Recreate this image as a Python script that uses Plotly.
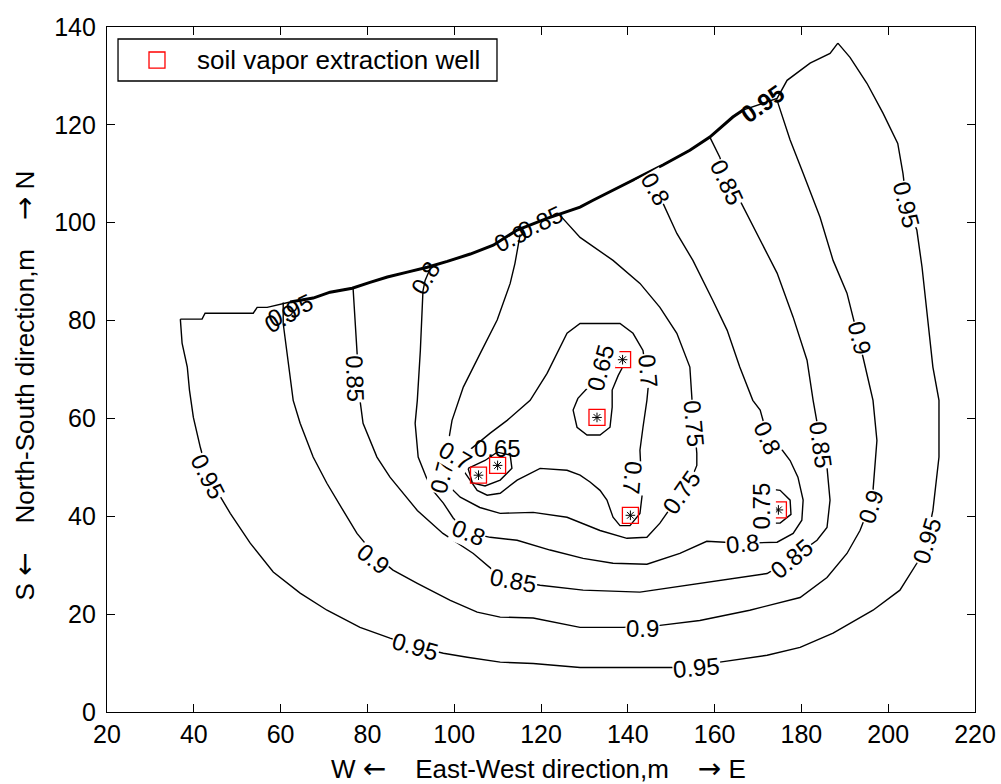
import plotly.graph_objects as go

# ---------------- data ----------------
x_ticks = [20, 40, 60, 80, 100, 120, 140, 160, 180, 200, 220]
y_ticks = [0, 20, 40, 60, 80, 100, 120, 140]

# upper edge of the domain, where all iso-lines bunch together
boundary_x = [36.9, 41.9, 42.6, 53.7, 54.6, 56.9, 62.2, 67.5, 71.4, 76.5, 80.6, 84.6, 89.2, 93.8,
              98.4, 103.7, 109.0, 114.5, 121.4, 129.0, 132.0, 139.8, 148.1, 154.3, 158.9, 164.2,
              166.5, 174.4, 176.7, 182.0, 186.6, 188.4]
boundary_y = [80.3, 80.3, 81.5, 81.5, 82.7, 82.7, 83.8, 84.6, 85.8, 86.6, 87.8, 88.9, 89.9, 90.9,
              92.1, 93.6, 95.4, 98.5, 100.9, 103.2, 104.6, 108.1, 111.8, 114.8, 117.5, 121.6,
              123.0, 125.4, 129.1, 132.6, 134.6, 136.7]
bunch_x = [62.2, 67.5, 71.4, 76.5, 80.6, 84.6, 89.2, 93.8, 98.4, 103.7, 109.0, 114.5, 121.4,
           129.0, 132.0, 139.8, 148.1, 154.3, 158.9, 164.2, 166.5]
bunch_y = [83.8, 84.6, 85.8, 86.6, 87.8, 88.9, 89.9, 90.9, 92.1, 93.6, 95.4, 98.5, 100.9,
           103.2, 104.6, 108.1, 111.8, 114.8, 117.5, 121.6, 123.0]

c095_x = [188.4, 191.2, 195.1, 198.8, 202.2, 203.4, 204.3, 206.6, 207.8, 209.1, 210.3, 211.7,
          211.7, 210.3, 208.9, 206.6, 202.7, 196.5, 187.3, 179.7, 172.1, 161.2, 155.9, 150.4,
          129.0, 118.2, 110.6, 103.0, 97.5, 91.0, 85.2, 78.3, 70.7, 64.5, 58.3, 53.0, 48.4,
          43.3, 41.5, 39.9, 39.0, 38.5, 37.3, 36.9]
c095_y = [136.7, 133.8, 128.5, 122.4, 116.2, 110.1, 103.6, 98.5, 90.9, 80.7, 70.5, 63.7,
          52.1, 41.2, 35.1, 30.4, 24.9, 20.8, 16.1, 13.2, 11.6, 10.2, 9.1, 9.1,
          9.1, 9.9, 10.2, 11.2, 12.0, 13.4, 15.1, 17.3, 20.8, 24.3, 28.6, 34.5, 40.6,
          48.2, 54.1, 60.2, 65.8, 70.5, 75.4, 80.3]

c090_x = [60.6, 60.6, 62.9, 64.5, 67.5, 70.7, 74.4, 77.6, 81.8, 85.9, 91.5, 99.1, 105.3, 110.6,
          118.2, 129.0, 138.9, 147.4, 156.6, 168.1, 179.7, 185.9, 190.5, 193.5, 195.8, 196.5,
          197.4, 196.5, 194.2, 191.9, 190.5, 187.3, 184.3, 180.4, 177.4, 174.4]
c090_y = [83.7, 79.4, 63.7, 59.0, 52.1, 46.7, 41.2, 36.5, 32.0, 29.0, 26.3, 22.8, 20.4, 19.4,
          19.2, 17.3, 17.3, 17.7, 18.7, 20.8, 23.4, 27.5, 32.4, 37.1, 42.3, 45.3,
          55.5, 63.7, 72.5, 80.7, 85.6, 92.3, 101.1, 110.1, 116.9, 125.0]

c085_x = [76.7, 77.6, 78.3, 79.0, 80.6, 82.2, 85.2, 91.5, 97.4, 104.4, 108.9, 113.6, 119.8,
          129.7, 142.8, 156.6, 172.1, 177.8, 183.6, 185.9, 186.6, 185.9, 184.5, 183.6, 182.7,
          181.3, 178.1, 174.4, 169.8, 165.8, 162.9, 161.2, 158.9]
c085_y = [86.6, 73.9, 63.7, 59.0, 55.5, 52.1, 48.0, 41.2, 36.5, 32.4, 29.0, 26.9, 25.9,
          24.9, 24.5, 26.3, 28.3, 31.4, 35.1, 37.7, 43.3, 50.0, 54.5, 59.2, 63.7,
          71.9, 80.7, 89.7, 97.8, 104.6, 108.3, 113.4, 117.5]

c080_x = [94.5, 93.3, 92.8, 92.2, 91.5, 91.0, 91.7, 94.5, 97.5, 99.8, 103.2, 108.3, 114.5,
          122.1, 129.7, 136.6, 144.4, 152.0, 158.2, 166.5, 174.4, 178.1, 180.1, 180.4, 179.2,
          177.4, 175.1, 172.3, 170.5, 168.8, 165.8, 162.9, 159.6, 155.0, 151.3, 148.1, 146.3,
          144.7]
c080_y = [90.7, 88.2, 86.0, 73.9, 63.7, 59.0, 52.1, 45.9, 42.7, 39.6, 36.7, 35.7, 35.1,
          33.1, 31.4, 30.4, 30.2, 32.4, 34.9, 34.5, 34.7, 36.5, 39.2, 43.3, 48.0,
          51.4, 54.1, 56.0, 61.7, 63.7, 70.5, 78.0, 84.1, 92.3, 97.8, 104.0, 107.0,
          110.1]

c075_x = [115.2, 114.0, 112.9, 111.3, 109.9, 106.0, 102.1, 99.5, 98.6, 97.9, 99.1, 101.4,
          105.9, 110.6, 118.2, 126.0, 133.6, 139.8, 144.4, 147.4, 152.3, 154.8, 155.9, 155.9,
          155.3, 154.8, 154.3, 151.3, 147.4, 142.8, 136.6, 129.0, 124.4]
c075_y = [97.6, 91.7, 87.6, 83.5, 80.1, 73.3, 66.4, 59.6, 54.9, 49.4, 45.9, 43.9,
          41.8, 40.6, 40.8, 39.8, 37.1, 35.5, 35.7, 38.6, 44.9, 48.0, 50.4, 52.9,
          59.0, 63.7, 70.5, 77.4, 82.7, 87.6, 92.3, 97.0, 101.5]
c075r_x = [171.6, 175.1, 177.4, 177.6, 175.1, 171.6]
c075r_y = [45.7, 45.3, 43.3, 40.4, 38.6, 38.6]

c070_x = [132.0, 138.2, 141.2, 143.5, 144.7, 144.4, 143.5, 142.8, 143.3, 142.8, 140.5, 138.2,
          136.6, 135.2, 133.6, 131.3, 129.0, 126.0, 119.8, 114.5, 110.6, 107.6, 105.3, 102.1,
          102.1, 105.3, 108.3, 112.2, 117.5, 121.4, 123.7, 126.0, 129.0, 132.0]
c070_y = [79.4, 79.4, 77.4, 73.9, 66.4, 63.7, 58.2, 53.5, 44.3, 40.6, 38.1, 38.1,
          39.8, 43.3, 45.3, 47.0, 48.4, 49.4, 49.8, 47.4, 44.7, 44.3, 45.3, 49.4,
          52.5, 54.9, 57.0, 59.6, 63.7, 69.2, 73.3, 77.4, 79.4, 79.4]

c065_x = [131.3, 128.5, 127.4, 128.3, 130.6, 133.6, 135.9, 136.4, 136.4, 137.8, 138.7]
c065_y = [66.8, 64.1, 61.7, 58.2, 56.6, 56.6, 58.2, 62.3, 65.8, 68.8, 70.3]
c065l_x = [103.2, 107.1, 109.9, 112.9, 113.3, 110.6, 107.1, 104.2, 103.2]
c065l_y = [49.8, 51.4, 53.1, 52.5, 49.8, 47.4, 46.2, 46.8, 49.8]

well_x = [105.6, 110.0, 132.9, 138.8, 140.6, 174.7]
well_y = [48.4, 50.4, 60.2, 72.0, 40.2, 41.3]
well_name = "soil vapor extraction well"

# inline contour labels
lab_text = ["0.95", "0.95", "0.95", "0.95", "0.95", "0.95", "0.95",
            "0.9", "0.9", "0.9", "0.9", "0.9", "0.9",
            "0.85", "0.85", "0.85", "0.85", "0.85", "0.85",
            "0.8", "0.8", "0.8", "0.8", "0.8",
            "0.75", "0.75", "0.75", "0.75",
            "0.7", "0.7", "0.7", "0.65", "0.65"]
lab_x = [43.3, 91.0, 155.9, 208.9, 204.3, 171.1, 62.2,
         81.3, 143.5, 196.0, 193.5, 112.9, 60.0,
         77.2, 113.6, 177.8, 184.5, 162.9, 119.8,
         103.2, 166.5, 172.3, 146.3, 93.3,
         155.3, 152.3, 170.9, 97.5,
         144.7, 141.2, 100.2, 133.6, 109.9]
lab_y = [48.2, 13.4, 9.1, 35.1, 103.6, 124.4, 82.1,
         31.4, 17.1, 42.0, 76.4, 96.8, 80.5,
         68.2, 26.9, 31.4, 54.5, 108.3, 100.1,
         36.7, 34.5, 56.0, 107.0, 88.6,
         59.0, 44.9, 42.2, 49.4,
         69.8, 48.0, 52.5, 70.3, 53.9]
lab_angle = [63, 16, -5, -73, 76, -35, -25,
             38, 0, -72, 76, -25, -30,
             88, 10, -40, 82, 65, -25,
             22, -5, 65, 60, -60,
             85, -55, -90, -75,
             85, 95, 30, -75, 0]
lab_bg = [True, True, True, True, True, False, False,
          True, True, True, True, False, False,
          True, True, True, True, True, False,
          True, True, True, True, False,
          True, True, True, True,
          True, True, True, True, False]

# ---------------- figure ----------------
FONT = "Liberation Sans, Arial, sans-serif"
ARROW = '<span style="font-family:DejaVu Sans;font-size:28px">{}</span>'
fig = go.Figure()

line_sets = [(c095_x, c095_y), (c090_x, c090_y), (c085_x, c085_y), (c080_x, c080_y),
             (c075_x, c075_y), (c075r_x, c075r_y), (c070_x, c070_y),
             (c065_x, c065_y), (c065l_x, c065l_y), (boundary_x, boundary_y)]
for xs, ys in line_sets:
    fig.add_trace(go.Scatter(x=xs, y=ys, mode="lines", line=dict(color="black", width=1.4),
                             showlegend=False, hoverinfo="skip"))
fig.add_trace(go.Scatter(x=bunch_x, y=bunch_y, mode="lines", line=dict(color="black", width=3),
                         showlegend=False, hoverinfo="skip"))

# tiny closed iso-lines at the well centres
fig.add_trace(go.Scatter(x=well_x, y=well_y, mode="markers",
                         marker=dict(symbol="asterisk-open", size=8, color="black",
                                     line=dict(color="black", width=1)),
                         showlegend=False, hoverinfo="skip"))
fig.add_trace(go.Scatter(x=well_x, y=well_y, mode="markers", name=well_name, showlegend=False,
                         marker=dict(symbol="square-open", size=16, color="red",
                                     line=dict(color="red", width=1.3))))

for t, xx, yy, a, bg in zip(lab_text, lab_x, lab_y, lab_angle, lab_bg):
    txt = "<b>" + t + "</b>" if (xx == 171.1) else t
    fig.add_annotation(x=xx, y=yy, xref="x", yref="y", text=txt, textangle=a,
                       showarrow=False, font=dict(family=FONT, size=24, color="black"),
                       bgcolor="white" if bg else "rgba(0,0,0,0)", borderpad=0)

# legend box (drawn like the MATLAB legend)
fig.add_shape(type="rect", xref="paper", yref="paper", x0=0.0127, x1=0.4493, y0=0.9212, y1=0.9825,
              line=dict(color="black", width=1.3), fillcolor="white", layer="above")
fig.add_shape(type="rect", xref="paper", yref="paper", x0=0.0484, x1=0.0668, y0=0.9401, y1=0.9635,
              line=dict(color="red", width=1.3), fillcolor="rgba(0,0,0,0)", layer="above")
fig.add_annotation(x=0.1014, y=0.9518, xref="paper", yref="paper", text=well_name,
                   showarrow=False, xanchor="left", yanchor="middle",
                   font=dict(family=FONT, size=26, color="black"))

# axis titles
fig.add_annotation(x=0.497, y=-0.082, xref="paper", yref="paper",
                   text="W " + ARROW.format("←") + "\u00a0\u00a0\u00a0 East-West direction,m\u00a0\u00a0\u00a0 "
                        + ARROW.format("→") + " E",
                   showarrow=False, font=dict(family=FONT, size=26, color="black"),
                   xanchor="center", yanchor="middle")
fig.add_annotation(x=-0.095, y=0.476, xref="paper", yref="paper",
                   text="S " + ARROW.format("←") + "\u00a0\u00a0\u00a0 North-South direction,m\u00a0\u00a0\u00a0 "
                        + ARROW.format("→") + " N",
                   textangle=-90,
                   showarrow=False, font=dict(family=FONT, size=26, color="black"),
                   xanchor="center", yanchor="middle")

axis_common = dict(showline=True, linecolor="black", linewidth=1.3, mirror="ticks",
                   ticks="inside", ticklen=8, tickwidth=1.3, tickcolor="black",
                   showgrid=False, zeroline=False,
                   tickfont=dict(family=FONT, size=25, color="black"))
fig.update_xaxes(range=[20, 220], tickvals=x_ticks, ticklabelstandoff=0, **axis_common)
fig.update_yaxes(range=[0, 140], tickvals=y_ticks, ticklabelstandoff=5, **axis_common)

fig.update_layout(
    width=1001, height=784,
    margin=dict(l=107, r=26, t=27, b=72, pad=0, autoexpand=False),
    plot_bgcolor="white", paper_bgcolor="white",
    showlegend=False,
    font=dict(family=FONT),
)

fig.write_html("out.html", config={"displayModeBar": False},
               post_script="document.body.style.margin='0px';document.body.style.overflow='hidden';")
